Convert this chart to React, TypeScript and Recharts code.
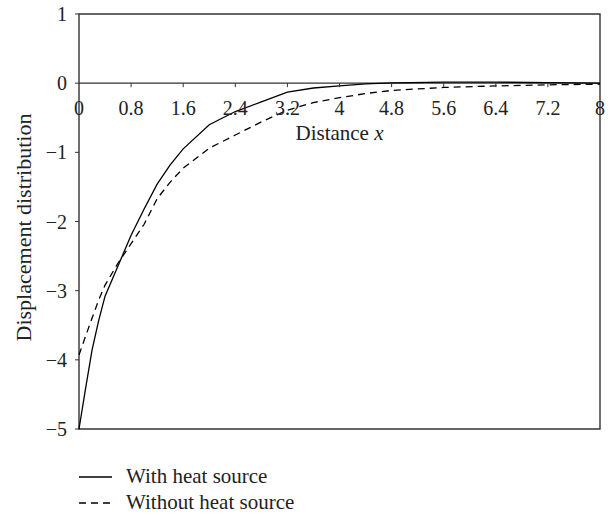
import React from 'react';
import { LineChart, Line, XAxis, YAxis, ReferenceLine, ReferenceArea, Legend } from 'recharts';

const xValues = [0, 0.1, 0.2, 0.3, 0.4, 0.6, 0.8, 1.0, 1.2, 1.4, 1.6, 2.0, 2.4, 2.8, 3.2, 3.6, 4.0, 4.4, 4.8, 5.6, 6.4, 7.2, 8.0];
const withHeat = [-5, -4.42, -3.86, -3.44, -3.08, -2.64, -2.2, -1.82, -1.46, -1.18, -0.95, -0.6, -0.41, -0.27, -0.13, -0.07, -0.04, -0.01, 0.005, 0.015, 0.015, 0.008, 0];
const withoutHeat = [-3.93, -3.66, -3.4, -3.14, -2.92, -2.6, -2.32, -2.04, -1.67, -1.43, -1.23, -0.94, -0.75, -0.56, -0.39, -0.28, -0.21, -0.15, -0.105, -0.062, -0.04, -0.024, -0.015];
const xTicks = [0, 0.8, 1.6, 2.4, 3.2, 4, 4.8, 5.6, 6.4, 7.2, 8];
const yTicks = [1, 0, -1, -2, -3, -4, -5];
const seriesNames = ['With heat source', 'Without heat source'];

const data = xValues.map((x, i) => ({ x, a: withHeat[i], b: withoutHeat[i] }));

const W = 612;
const H = 515;
const MARGIN = { top: 14, right: 12, left: 0, bottom: 85 };
const XAXIS_H = 1;
const Y_MIN = -5;
const Y_MAX = 1;
const PLOT_H = H - MARGIN.top - MARGIN.bottom - XAXIS_H;
const FONT = '"Liberation Serif", "DejaVu Serif", serif';
const AXIS_COLOR = '#333';

const zeroOffset = PLOT_H * (0 - Y_MIN) / (Y_MAX - Y_MIN);

const fmt = (v: number) => String(v).replace('-', '\u2212');

const XTick = (props: any) => {
  const { x, y, payload } = props;
  const zy = y - zeroOffset;
  const v = payload.value;
  return (
    <g>
      {v !== 0 && v !== 8 && <line x1={x} x2={x} y1={zy} y2={zy + 4} stroke={AXIS_COLOR} strokeWidth={1} />}
      <text x={x} y={zy + 32} textAnchor="middle" fontFamily={FONT} fontSize={20} fill="#222">{fmt(v)}</text>
    </g>
  );
};

const XLabel = (props: any) => {
  const vb = props.viewBox;
  const zy = vb.y - zeroOffset;
  return (
    <text x={vb.x + vb.width / 2} y={zy + 57} textAnchor="middle" fontFamily={FONT} fontSize={21} fill="#222">
      Distance <tspan fontStyle="italic">x</tspan>
    </text>
  );
};

const YLabel = (props: any) => {
  const vb = props.viewBox;
  const cx = vb.x + 31;
  const cy = vb.y + vb.height / 2 + 6;
  return (
    <text x={cx} y={cy} transform={`rotate(-90 ${cx} ${cy})`} textAnchor="middle" fontFamily={FONT} fontSize={22} fill="#222">
      Displacement distribution
    </text>
  );
};

const LegendContent = () => (
  <div style={{ fontFamily: FONT, fontSize: 21, color: '#222', lineHeight: '26px' }}>
    {seriesNames.map((name, i) => (
      <div key={name} style={{ display: 'flex', alignItems: 'center' }}>
        <svg width={48} height={26} style={{ display: 'block' }}>
          <line x1={1} x2={34} y1={14} y2={14} stroke="#000" strokeWidth={1.3} strokeDasharray={i === 1 ? '7 5' : undefined} />
        </svg>
        <span>{name}</span>
      </div>
    ))}
  </div>
);

export default function App() {
  return (
    <div style={{ position: 'absolute', left: 0, top: 0, width: W, height: H, background: '#fff' }}>
      <LineChart width={W} height={H} data={data} margin={MARGIN}>
        <ReferenceArea x1={0} x2={8} y1={-5} y2={1} fill="none" stroke={AXIS_COLOR} strokeWidth={1.4} />
        <ReferenceLine y={0} stroke={AXIS_COLOR} strokeWidth={1.4} />
        <XAxis
          dataKey="x"
          type="number"
          domain={[0, 8]}
          ticks={xTicks}
          interval={0}
          height={XAXIS_H}
          axisLine={false}
          tickLine={false}
          tickSize={0}
          tickMargin={0}
          tick={<XTick />}
          label={{ content: <XLabel /> }}
        />
        <YAxis
          type="number"
          domain={[Y_MIN, Y_MAX]}
          ticks={yTicks}
          interval={0}
          width={79}
          axisLine={false}
          tickSize={4}
          tickMargin={8}
          tickLine={{ stroke: AXIS_COLOR }}
          tickFormatter={fmt}
          tick={{ fontFamily: FONT, fontSize: 20, fill: '#222' }}
          label={{ content: <YLabel /> }}
        />
        <Line dataKey="a" name={seriesNames[0]} type="linear" stroke="#000" strokeWidth={1.3} dot={false} isAnimationActive={false} />
        <Line dataKey="b" name={seriesNames[1]} type="linear" stroke="#000" strokeWidth={1.3} strokeDasharray="7 5" dot={false} isAnimationActive={false} />
        <Legend
          layout="horizontal"
          verticalAlign="middle"
          align="center"
          content={<LegendContent />}
          wrapperStyle={{ left: 78, top: 463, width: 'auto', height: 'auto' }}
        />
      </LineChart>
    </div>
  );
}
